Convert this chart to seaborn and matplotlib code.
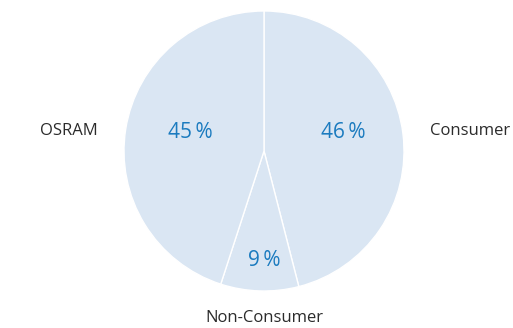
import matplotlib
matplotlib.use('Agg')
import matplotlib.pyplot as plt
import seaborn as sns

# 数据
segments = ['Consumer', 'Non-Consumer', 'OSRAM']
shares = [46, 9, 45]
pct_labels = ['46\u2009%', '9\u2009%', '45\u2009%']

sns.set_theme(style='white')
plt.rcParams['font.family'] = ['Open Sans', 'DejaVu Sans']

FILL = '#dae6f3'
BLUE = '#1b7bbf'
DARK = '#2b2b2b'

fig = plt.figure(figsize=(5.13, 3.28), dpi=100)
# 饼图中心约在 (264, 151) px，半径 140 px
ax = fig.add_axes([(264 - 150) / 513, (177 - 150) / 328, 300 / 513, 300 / 328])
ax.pie(shares, radius=140, startangle=90, counterclock=False,
       colors=[FILL] * len(shares),
       wedgeprops=dict(edgecolor='white', linewidth=1.0))
ax.set_xlim(-150, 150)
ax.set_ylim(-150, 150)
ax.set_aspect('equal')
ax.axis('off')

# 百分比 / 标签位置（相对中心的像素偏移）
pct_pos = [(79, 19), (0, -110), (-74, 19)]
name_pos = [(206, 20), (0, -167), (-195, 20)]

for txt, (x, y) in zip(pct_labels, pct_pos):
    ax.text(x, y, txt, ha='center', va='center', color=BLUE, fontsize=15, clip_on=False)
for txt, (x, y) in zip(segments, name_pos):
    ax.text(x, y, txt, ha='center', va='center', color=DARK, fontsize=12, clip_on=False)

fig.savefig('out.png', dpi=100)
